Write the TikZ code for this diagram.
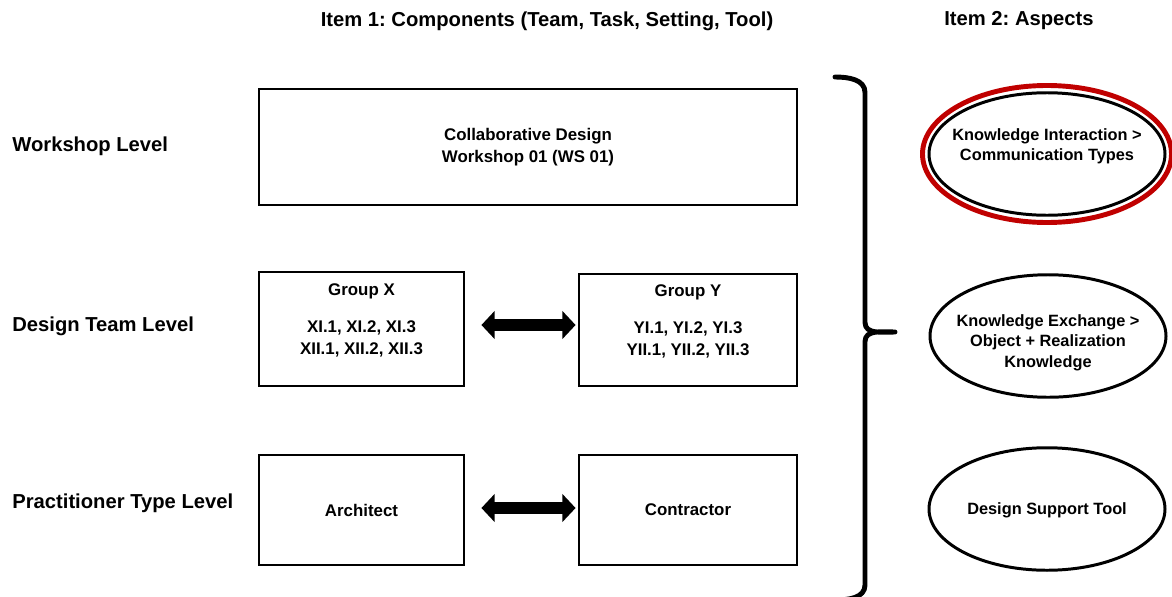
\documentclass[tikz,border=0pt]{standalone}
\usepackage{fontspec}
\setmainfont{Liberation Sans}
\usepackage{tikz}
\usetikzlibrary{shapes.geometric,arrows.meta}
\definecolor{ringred}{RGB}{192,0,0}
\frenchspacing

\begin{document}
\begin{tikzpicture}[
    every node/.style={font=\bfseries},
    lvl/.style={anchor=west, inner sep=0pt, font=\bfseries\fontsize{11.5}{13}\selectfont},
    head/.style={inner sep=0pt, font=\bfseries\fontsize{11.5}{13}\selectfont},
    box/.style={draw, line width=1.6pt, inner sep=0pt},
    boxtext/.style={align=center, inner sep=0pt, font=\bfseries\fontsize{9.6}{12.5}\selectfont},
    aspect/.style={draw, ellipse, line width=1.7pt, inner sep=0pt,
      minimum width=4.72cm, minimum height=2.45cm},
    aspecttext/.style={align=center, inner sep=0pt, font=\bfseries\fontsize{9.3}{11.6}\selectfont},
    link/.style={line width=6.8pt, {Triangle[length=7.5pt,width=15.5pt]}-{Triangle[length=7.5pt,width=15.5pt]}}
  ]
  \useasboundingbox (0,0) rectangle (23.44,-11.92);

  % headings
  \node[head] (item1) at (10.94,-0.42) {Item 1: Components (Team, Task, Setting, Tool)};
  \node[head] (item2) at (20.38,-0.42) {Item 2: Aspects};

  % levels
  \node[lvl] (lws) at (0.24,-2.92) {Workshop Level};
  \node[lvl] (lteam) at (0.24,-6.52) {Design Team Level};
  \node[lvl] (lprac) at (0.24,-10.06) {Practitioner Type Level};

  % components
  \node[box, boxtext, minimum width=10.76cm, minimum height=2.32cm] (ws) at (10.56,-2.94)
    {Collaborative Design\\Workshop 01 (WS 01)};
  \node[box, minimum width=4.1cm, minimum height=2.28cm] (gx) at (7.23,-6.58) {};
  \node[box, minimum width=4.36cm, minimum height=2.24cm] (gy) at (13.76,-6.6) {};
  \node[boxtext] (gxtext) at ([yshift=0.18cm]gx.center) {Group X\\[8.5pt]XI.1, XI.2, XI.3\\XII.1, XII.2, XII.3};
  \node[boxtext] (gytext) at ([yshift=0.18cm]gy.center) {Group Y\\[8.5pt]YI.1, YI.2, YI.3\\YII.1, YII.2, YII.3};
  \node[box, boxtext, minimum width=4.1cm, minimum height=2.2cm] (arch) at (7.23,-10.2) {Architect};
  \node[box, boxtext, minimum width=4.36cm, minimum height=2.2cm] (cont) at (13.76,-10.2) {Contractor};

  \draw[link, shorten <=0.32cm, shorten >=0.04cm] ([yshift=0.08cm]gx.east) -- ([yshift=0.1cm]gy.west);
  \draw[link, shorten <=0.32cm, shorten >=0.04cm] ([yshift=0.04cm]arch.east) -- ([yshift=0.04cm]cont.west);

  % brace
  \coordinate (btop) at (16.7,-1.54);
  \coordinate (btip) at (17.9,-6.64);
  \coordinate (bbot) at (16.7,-12.0);
  \draw[line width=2.8pt, line cap=round, line join=round]
    (btop) to[out=0,in=90] (17.3,-1.85) -- (17.3,-6.45)
    to[out=-90,in=180] (btip) to[out=180,in=90] (17.3,-6.83)
    -- (17.3,-11.7) to[out=-90,in=0] (bbot);

  % aspects
  \node[aspect, label={[aspecttext, yshift=0.16cm]center:Knowledge Interaction >\\Communication Types}] (comm) at (20.94,-3.08) {};
  \node[draw=ringred, ellipse, line width=2.8pt, inner sep=0pt,
    minimum width=4.98cm, minimum height=2.74cm] (ring) at (comm.center) {};
  \node[aspect, label={[aspecttext, yshift=-0.13cm]center:Knowledge Exchange >\\Object + Realization\\Knowledge}] (exch) at (20.96,-6.72) {};
  \node[aspect, label={[aspecttext, yshift=-0.03cm]center:Design Support Tool}] (tool) at (20.94,-10.18) {};
\end{tikzpicture}
\end{document}
